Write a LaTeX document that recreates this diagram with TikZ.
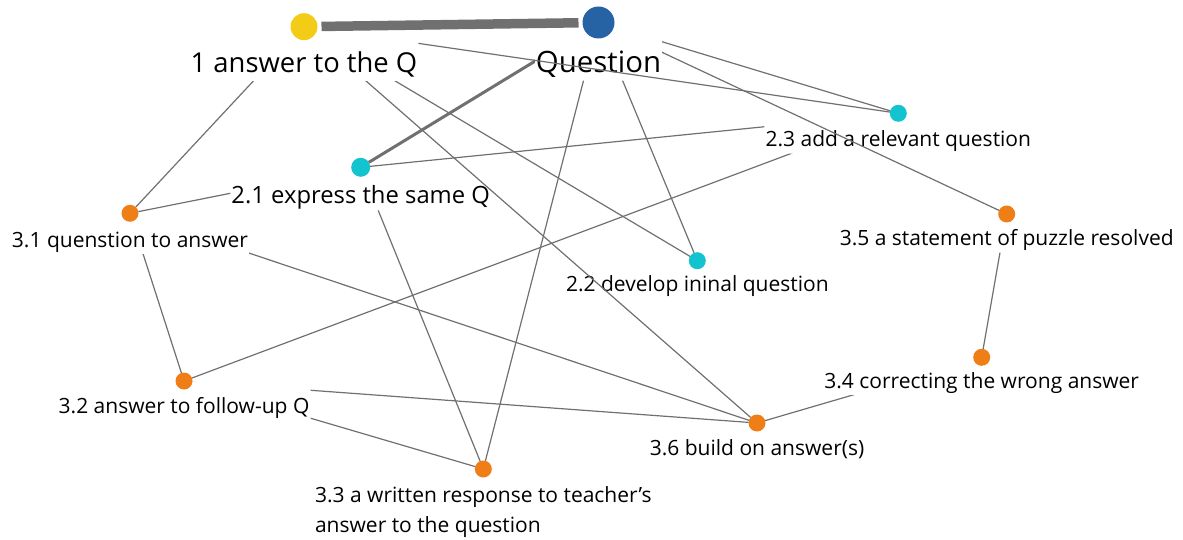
\documentclass[tikz,border=0pt]{standalone}
\usepackage{fontspec}
\setmainfont{Open Sans}
\usetikzlibrary{positioning}
\definecolor{qyellow}{RGB}{243,204,24}
\definecolor{qblue}{RGB}{37,99,165}
\definecolor{qcyan}{RGB}{20,195,208}
\definecolor{qorange}{RGB}{240,126,22}
\definecolor{linkgray}{RGB}{112,112,112}
\tikzset{
	vdot/.style = {circle, inner sep = 0pt, outer sep = 0pt, minimum size = 17pt},
	txt/.style = {inner sep = 1pt, font = \fontsize{21}{30}\selectfont},
	lbl/.style = {txt, text height = 16pt, text depth = 5.5pt},
	midlbl/.style = {lbl, text height = 18pt, text depth = 6pt, font = \fontsize{23.8}{30}\selectfont},
	biglbl/.style = {lbl, text height = 21.5pt, text depth = 7pt, font = \fontsize{28.5}{34}\selectfont},
	edgeline/.style = {linkgray, line width = 1.2pt},
}
% edge between two dots, hidden below the dot centre inside the label of its own two ends
\newcommand{\linkit}[3][]{%
	\begin{scope}
		\clip (-10,-10) -- (1200,-10) -- (1200,560) -- (-10,560) -- cycle
			(l#2.west |- d#2.center) -- (l#2.south west) -- (l#2.south east) -- (l#2.east |- d#2.center) -- cycle
			(l#3.west |- d#3.center) -- (l#3.south west) -- (l#3.south east) -- (l#3.east |- d#3.center) -- cycle;
		\draw[edgeline, #1] (d#2) -- (d#3);
	\end{scope}}

\begin{document}
\begin{tikzpicture}[x = 1pt, y = -1pt]
	\useasboundingbox (0,0) rectangle (1183,540);
	\node[vdot, fill = qyellow, minimum size = 27pt] (dA1) at (304,26.7) {};
	\node[biglbl, font = \fontsize{27.4}{34}\selectfont, below = 10pt of dA1] (lA1) {1 answer to the Q};
	\node[vdot, fill = qblue, minimum size = 32pt] (dQ) at (598.5,22.5) {};
	\node[biglbl, font = \fontsize{29.4}{34}\selectfont, below = 11.2pt of dQ] (lQ) {Question};
	\node[vdot, fill = qcyan, minimum size = 19pt] (d21) at (360.7,167.3) {};
	\node[midlbl, below = 7.2pt of d21] (l21) {2.1 express the same Q};
	\node[vdot, fill = qcyan] (d22) at (697.3,260.7) {};
	\node[lbl, below = 5.5pt of d22] (l22) {2.2 develop ininal question};
	\node[vdot, fill = qcyan] (d23) at (898.3,113.3) {};
	\node[lbl, below = 7.9pt of d23] (l23) {2.3 add a relevant question};
	\node[vdot, fill = qorange] (d31) at (130,213.3) {};
	\node[lbl, below = 8.5pt of d31] (l31) {3.1 quenstion to answer};
	\node[vdot, fill = qorange] (d32) at (184,381) {};
	\node[lbl, below = 6.8pt of d32] (l32) {3.2 answer to follow-up Q};
	\node[vdot, fill = qorange] (d33) at (483.3,469) {};
	\node[txt, align = left, below = 7.8pt of d33] (l33) {3.3 a written response to teacher’s\\answer to the question};
	\node[vdot, fill = qorange] (d34) at (981.7,357.3) {};
	\node[lbl, below = 5.5pt of d34] (l34) {3.4 correcting the wrong answer};
	\node[vdot, fill = qorange] (d35) at (1006.7,214) {};
	\node[lbl, below = 6.2pt of d35] (l35) {3.5 a statement of puzzle resolved};
	\node[vdot, fill = qorange] (d36) at (757,423) {};
	\node[lbl, below = 7pt of d36] (l36) {3.6 build on answer(s)};
	\draw[edgeline, line width = 9.5pt, shorten < = 4pt, shorten > = 4pt] (dA1) -- (dQ);
	\linkit[line width = 3pt]{Q}{21}
	\linkit{A1}{31}
	\linkit{A1}{36}
	\linkit{A1}{22}
	\linkit{A1}{23}
	\linkit{Q}{33}
	\linkit{Q}{22}
	\linkit{Q}{23}
	\linkit{Q}{35}
	\linkit{21}{23}
	\linkit{21}{33}
	\linkit{31}{21}
	\linkit{31}{32}
	\linkit{31}{36}
	\linkit{32}{23}
	\linkit{32}{36}
	\linkit{32}{33}
	\linkit{35}{34}
	\linkit{34}{36}
\end{tikzpicture}
\end{document}
